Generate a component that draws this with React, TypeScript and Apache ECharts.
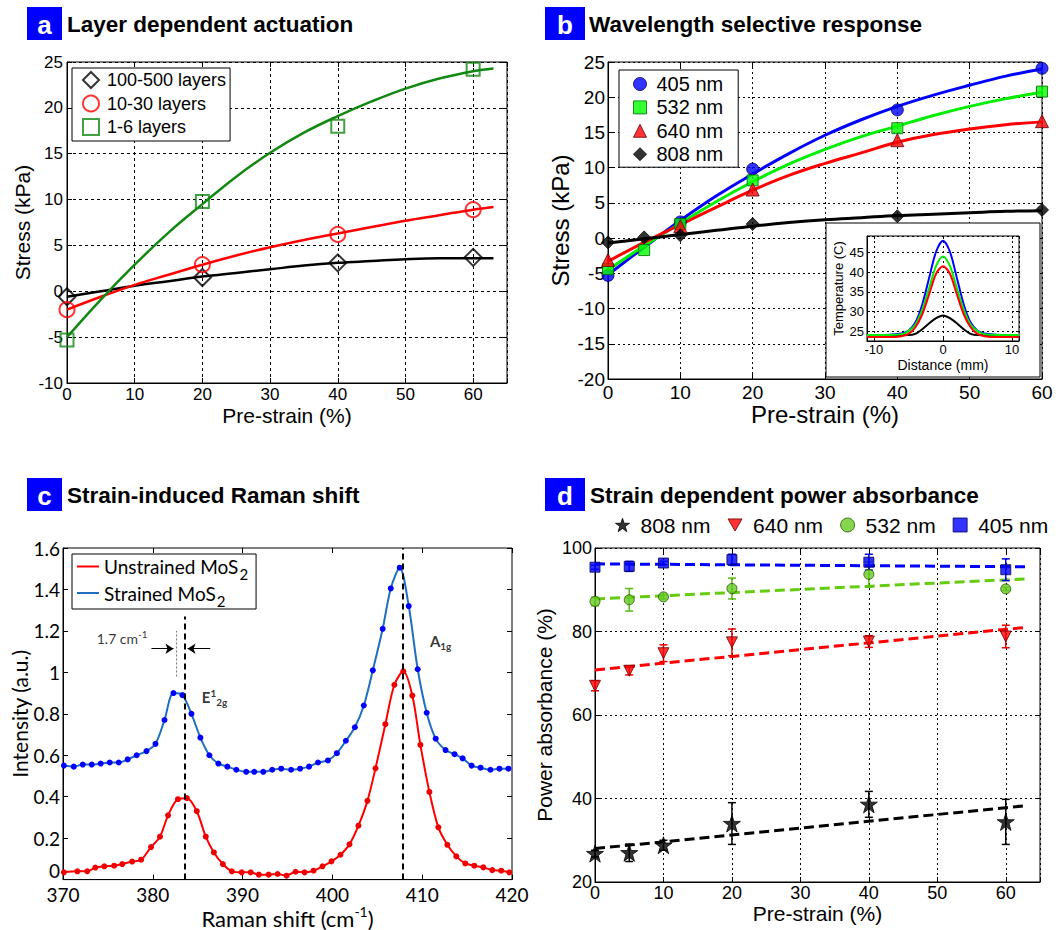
import React, { useEffect, useRef } from 'react';
import * as echarts from 'echarts';

const ARIAL = '"Liberation Sans", Arial, sans-serif';
const CAL = 'Lato, "Open Sans", sans-serif';

// ---------------- Panel a : Layer dependent actuation ----------------
const aStrain = [0, 20, 40, 60];
const aLayers100 = [-0.6, 1.5, 3.1, 3.7];
const aLayers10 = [-2.0, 2.9, 6.2, 8.9];
const aLayers1 = [-5.3, 9.8, 18.0, 24.2];
const aFitStrain = [0, 5, 10, 15, 20, 25, 30, 35, 40, 45, 50, 55, 60, 63];
const aFit100 = [-0.6, 0.0, 0.6, 1.1, 1.6, 2.0, 2.4, 2.8, 3.1, 3.3, 3.5, 3.6, 3.6, 3.6];
const aFit10 = [-2.0, -0.6, 0.7, 1.8, 2.9, 3.9, 4.8, 5.6, 6.3, 7.0, 7.7, 8.3, 8.9, 9.2];
const aFit1 = [-5.0, -0.9, 2.9, 6.4, 9.5, 12.5, 15.1, 17.3, 19.1, 20.7, 22.1, 23.2, 24.0, 24.3];
const aNames = ['100-500 layers', '10-30 layers', '1-6 layers'];

// ---------------- Panel b : Wavelength selective response ----------------
const bStrain = [0, 5, 10, 20, 40, 60];
const b405 = [-5.3, null, 2.3, 9.8, 18.2, 24.1];
const b532 = [-4.4, -1.7, 2.0, 8.2, 15.6, 20.8];
const b640 = [-3.1, null, 1.7, 6.9, 13.9, 16.6];
const b808 = [-0.6, 0.1, 0.4, 2.0, 3.1, 4.0];
const bFitStrain = [0, 5, 10, 15, 20, 25, 30, 35, 40, 45, 50, 55, 60];
const bFit405 = [-5.2, -1.3, 2.5, 6.0, 9.1, 12.0, 14.6, 16.8, 18.7, 20.3, 21.7, 23.0, 24.0];
const bFit532 = [-4.5, -1.1, 2.1, 5.2, 8.0, 10.5, 12.6, 14.4, 15.9, 17.4, 18.7, 19.8, 20.7];
const bFit640 = [-3.3, -0.6, 1.9, 4.4, 6.8, 8.9, 10.6, 12.1, 13.6, 14.7, 15.5, 16.1, 16.5];
const bFit808 = [-0.7, -0.1, 0.5, 1.1, 1.7, 2.2, 2.6, 2.9, 3.2, 3.4, 3.6, 3.8, 3.9];
const bNames = ['405 nm', '532 nm', '640 nm', '808 nm'];

// inset : temperature profile
const insetDist = [-11, -9, -7, -6, -5, -4, -3, -2, -1, 0, 1, 2, 3, 4, 5, 6, 7, 9, 11];
const inset405 = [24, 24, 24.2, 24.4, 25.1, 27.2, 31.8, 38.6, 45.2, 48, 45.2, 38.6, 31.8, 27.2, 25.1, 24.4, 24.2, 24, 24];
const inset532 = [24, 24, 24.1, 24.2, 25, 26.7, 30.5, 36, 41.6, 44, 41.6, 36, 30.5, 26.7, 25, 24.2, 24.1, 24, 24];
const inset640 = [23.5, 23.5, 23.5, 23.7, 24.3, 26, 29.3, 34.4, 39.6, 41.5, 39.6, 34.4, 29.3, 26, 24.3, 23.7, 23.5, 23.5, 23.5];
const inset808 = [24, 24, 24, 24, 24, 24.3, 25.5, 27, 28.3, 29, 28.3, 27, 25.5, 24.3, 24, 24, 24, 24, 24];

// ---------------- Panel c : Strain-induced Raman shift ----------------
const cUnX = [370.1, 371.6, 372.7, 373.6, 374.6, 375.7, 376.6, 377.7, 378.7, 379.8, 380.8, 381.7, 382.8, 383.8, 384.9, 385.9, 386.8, 387.8, 388.8, 389.9, 390.9, 391.8, 392.9, 393.9, 394.9, 395.9, 396.9, 397.9, 398.9, 399.9, 400.9, 401.9, 402.9, 403.9, 404.8, 405.9, 406.9, 407.9, 408.9, 409.8, 410.8, 411.8, 412.8, 413.8, 414.8, 415.8, 416.8, 417.8, 418.8, 419.7];
const cUnY = [0.035, 0.04, 0.04, 0.058, 0.064, 0.067, 0.075, 0.087, 0.096, 0.157, 0.207, 0.31, 0.388, 0.393, 0.33, 0.207, 0.131, 0.075, 0.04, 0.035, 0.035, 0.024, 0.024, 0.027, 0.019, 0.038, 0.035, 0.043, 0.064, 0.088, 0.12, 0.17, 0.26, 0.38, 0.537, 0.75, 0.94, 1.005, 0.888, 0.65, 0.423, 0.252, 0.168, 0.112, 0.078, 0.067, 0.059, 0.046, 0.043, 0.035];
const cStX = [370.1, 371.2, 372.2, 373.2, 374.2, 375.2, 376.2, 377.2, 378.2, 379.3, 380.3, 381.3, 382.3, 383.3, 384.3, 385.3, 386.3, 387.3, 388.3, 389.3, 390.4, 391.3, 392.3, 393.3, 394.3, 395.4, 396.4, 397.4, 398.4, 399.5, 400.5, 401.5, 402.5, 403.5, 404.5, 405.6, 406.5, 407.5, 408.5, 409.5, 410.5, 411.5, 412.6, 413.6, 414.5, 415.5, 416.5, 417.6, 418.6, 419.6];
const cStY = [0.55, 0.545, 0.555, 0.555, 0.56, 0.565, 0.565, 0.58, 0.6, 0.62, 0.655, 0.77, 0.9, 0.89, 0.8, 0.685, 0.6, 0.56, 0.545, 0.53, 0.52, 0.52, 0.52, 0.53, 0.535, 0.53, 0.535, 0.545, 0.565, 0.575, 0.61, 0.67, 0.735, 0.84, 1.01, 1.21, 1.405, 1.505, 1.32, 1.015, 0.805, 0.68, 0.625, 0.605, 0.585, 0.55, 0.54, 0.53, 0.535, 0.535];
const cNames = ['Unstrained MoS2', 'Strained MoS2'];
const cPeakE = 383.57;
const cPeakA = 407.84;
const cPeakEStrained = 382.57;

// ---------------- Panel d : Strain dependent power absorbance ----------------
const dStrain = [0, 5, 10, 20, 40, 60];
const d808 = [26.8, 27.0, 28.8, 34.0, 38.6, 34.4];
const d808Err = [0.8, 2.1, 1.2, 5.0, 3.1, 5.4];
const d640 = [67.0, 70.6, 74.8, 77.4, 77.6, 78.8];
const d640Err = [1.2, 1.0, 2.0, 3.2, 1.4, 2.7];
const d532 = [87.2, 87.6, 88.3, 90.3, 93.7, 90.2];
const d532Err = [1.0, 2.7, 0.5, 2.5, 3.0, 0.4];
const d405 = [95.4, 95.6, 96.4, 97.2, 96.6, 94.8];
const d405Err = [0.5, 1.2, 0.4, 1.3, 1.9, 2.6];
const dFitStrain = [0, 63];
const d808Fit = [28.0, 38.3];
const d640Fit = [70.8, 81.0];
const d532Fit = [87.8, 92.6];
const d405Fit = [96.2, 95.5];
const dNames = ['808 nm', '640 nm', '532 nm', '405 nm'];

// ---------------- helpers ----------------
const STAR = 'path://M50,0 L61.8,35.4 L100,35.4 L69.1,57.3 L80.9,95.1 L50,72.4 L19.1,95.1 L30.9,57.3 L0,35.4 L38.2,35.4 Z';
const TRI_DOWN = 'path://M0,0 L100,0 L50,87 Z';

const zip = (xs: number[], ys: (number | null)[]) =>
  xs.map((x, i) => [x, ys[i]]).filter((p) => p[1] !== null && p[1] !== undefined);

const tickFmt = (step: number, liftZero = false) => (v: number) => {
  if (Math.abs(v / step - Math.round(v / step)) >= 1e-6) return '';
  const s = String(+v.toFixed(4));
  return liftZero && s === '0' ? '{lift|0}' : s;
};

function axis(dim: 'x' | 'y', o: any) {
  const base: any = {
    type: 'value',
    gridIndex: o.gi,
    position: dim === 'x' ? 'bottom' : 'left',
    min: o.min,
    max: o.max,
    z: o.z ?? 0,
    name: o.name,
    nameLocation: 'middle',
    nameGap: o.nameGap,
    nameTextStyle: { fontFamily: o.font, fontSize: o.nameSize, color: '#000', rich: o.rich },
    axisLine: { show: true, onZero: false, lineStyle: { color: '#000', width: 1 } },
    axisTick: { show: true, inside: true, length: o.tick ?? 5, lineStyle: { color: '#000' } },
    axisLabel: {
      show: true,
      fontFamily: o.font,
      fontSize: o.size,
      color: '#000',
      margin: o.margin ?? 3,
      formatter: tickFmt(o.step, !!o.liftZero),
      hideOverlap: false,
      rich: { lift: { fontFamily: o.font, fontSize: o.size, color: '#000', padding: [0, 0, 18, 0] } },
    },
    splitLine: { show: !!o.grid, lineStyle: { type: o.dash ?? [2, 3], color: '#000', width: 1 } },
  };
  if (o.auto) base.splitNumber = o.splitNumber;
  else base.interval = o.step;
  return base;
}

function mirror(dim: 'x' | 'y', o: any) {
  const base: any = {
    type: 'value',
    gridIndex: o.gi,
    position: dim === 'x' ? 'top' : 'right',
    min: o.min,
    max: o.max,
    z: o.z ?? 0,
    axisLine: { show: false, onZero: false },
    axisTick: { show: true, inside: true, length: o.tick ?? 5, lineStyle: { color: '#000' } },
    axisLabel: { show: false },
    splitLine: { show: false },
  };
  if (o.auto) base.splitNumber = o.splitNumber;
  else base.interval = o.step;
  return base;
}

function fitLine(xs: number[], ys: number[], color: string, xi: number, width: number, extra: any = {}) {
  return {
    type: 'line',
    xAxisIndex: xi,
    yAxisIndex: xi,
    data: zip(xs, ys),
    symbol: 'none',
    showSymbol: false,
    smooth: extra.smooth ?? 0.4,
    silent: true,
    z: extra.z ?? 2,
    lineStyle: { color, width, type: extra.type ?? 'solid' },
  };
}

function errSeries(xs: number[], ys: number[], es: number[], color: string, xi: number) {
  return {
    type: 'custom',
    xAxisIndex: xi,
    yAxisIndex: xi,
    silent: true,
    z: 3,
    data: xs.map((x, i) => [x, ys[i] - es[i], ys[i] + es[i]]),
    encode: { x: 0, y: [1, 2] },
    renderItem: (_p: any, api: any) => {
      const x = api.value(0);
      const a = api.coord([x, api.value(1)]);
      const b = api.coord([x, api.value(2)]);
      const w = 4;
      const st = { stroke: color, lineWidth: 1.5 };
      return {
        type: 'group',
        children: [
          { type: 'line', shape: { x1: a[0], y1: a[1], x2: b[0], y2: b[1] }, style: st },
          { type: 'line', shape: { x1: a[0] - w, y1: a[1], x2: a[0] + w, y2: a[1] }, style: st },
          { type: 'line', shape: { x1: b[0] - w, y1: b[1], x2: b[0] + w, y2: b[1] }, style: st },
        ],
      };
    },
  };
}

function titleBox(x: number, y: number, w: number, h: number, letter: string) {
  return [
    { type: 'rect', z: 50, shape: { x, y, width: w, height: h }, style: { fill: '#0000ff' } },
    {
      type: 'text',
      z: 51,
      x: x + w / 2,
      y: y + h / 2 + 1,
      style: { text: letter, fill: '#fff', font: `bold 26px ${ARIAL}`, align: 'center', verticalAlign: 'middle' },
    },
  ];
}
function titleText(x: number, y: number, t: string) {
  return {
    type: 'text',
    z: 51,
    x,
    y,
    style: { text: t, fill: '#000', font: `bold 22.5px ${ARIAL}`, align: 'left', verticalAlign: 'middle' },
  };
}

function buildOption(): any {
  const grids = [
    { left: 67, top: 62, width: 440, height: 321 },
    { left: 608, top: 62, width: 434, height: 317 },
    { left: 867, top: 236, width: 152, height: 105, z: 15 },
    { left: 63, top: 548, width: 449, height: 333 },
    { left: 595, top: 548, width: 445, height: 334 },
  ].map((g) => ({ show: true, borderColor: '#000', borderWidth: 1, backgroundColor: '#fff', containLabel: false, ...g }));

  const xs = [
    { gi: 0, min: 0, max: 65, step: 10, font: ARIAL, size: 17, name: 'Pre-strain (%)', nameSize: 21, nameGap: 22, grid: true, margin: 3, dash: [3, 3] },
    { gi: 1, min: 0, max: 60, step: 10, font: ARIAL, size: 19, name: 'Pre-strain (%)', nameSize: 24, nameGap: 11, grid: true, margin: 4 },
    { gi: 2, min: -11, max: 11, step: 10, auto: true, splitNumber: 2, font: ARIAL, size: 13, name: 'Distance (mm)', nameSize: 14, nameGap: 17, grid: true, margin: 2, z: 20, tick: 3 },
    {
      gi: 3, min: 370, max: 420, step: 10, font: CAL, size: 19, name: 'Raman shift (cm{sup|-1})', nameSize: 22, nameGap: 16, grid: false, margin: 5,
      rich: { sup: { fontFamily: CAL, fontSize: 14, padding: [0, 0, 13, 0], color: '#000' } },
    },
    { gi: 4, min: 0, max: 65, step: 10, font: ARIAL, size: 18, name: 'Pre-strain (%)', nameSize: 21, nameGap: 17, grid: true, margin: 2 },
  ];
  const ys = [
    { gi: 0, min: -10, max: 25, step: 5, font: ARIAL, size: 17, name: 'Stress (kPa)', nameSize: 21, nameGap: 34, grid: true, margin: 4, dash: [3, 3] },
    { gi: 1, min: -20, max: 25, step: 5, font: ARIAL, size: 19, name: 'Stress (kPa)', nameSize: 24, nameGap: 36, grid: true, margin: 3 },
    { gi: 2, min: 22.5, max: 49.2, step: 5, auto: true, splitNumber: 5, font: ARIAL, size: 13, name: 'Temperature (C)', nameSize: 13, nameGap: 22, grid: true, margin: 3, z: 20, tick: 3 },
    { gi: 3, min: 0, max: 1.6, step: 0.2, font: CAL, size: 19, name: 'Intensity (a.u.)', nameSize: 21, nameGap: 28, grid: false, margin: 3, liftZero: true },
    { gi: 4, min: 20, max: 100, step: 20, font: ARIAL, size: 18, name: 'Power absorbance (%)', nameSize: 21, nameGap: 40, grid: true, margin: 3 },
  ];

  const xAxis = [...xs.map((o) => axis('x', o)), ...xs.map((o) => mirror('x', o))];
  const yAxis = [...ys.map((o) => axis('y', o)), ...ys.map((o) => mirror('y', o))];

  const series: any[] = [];

  // ---- panel a
  series.push(fitLine(aFitStrain, aFit100, '#000', 0, 2.5));
  series.push(fitLine(aFitStrain, aFit10, '#ff0000', 0, 2.5));
  series.push(fitLine(aFitStrain, aFit1, '#118811', 0, 2.5));
  const aStyles = [
    { sym: 'diamond', size: 17, c: '#000' },
    { sym: 'circle', size: 15, c: '#ff0000' },
    { sym: 'rect', size: 13, c: '#118811' },
  ];
  [aLayers100, aLayers10, aLayers1].forEach((vals, i) => {
    series.push({
      type: 'scatter', name: aNames[i], xAxisIndex: 0, yAxisIndex: 0, z: 3,
      data: zip(aStrain, vals), symbol: aStyles[i].sym, symbolSize: aStyles[i].size,
      itemStyle: { color: 'rgba(255,255,255,0)', borderColor: aStyles[i].c, borderWidth: 2 },
    });
  });

  // ---- panel b
  series.push(fitLine(bFitStrain, bFit405, '#0000ff', 1, 3));
  series.push(fitLine(bFitStrain, bFit532, '#00ee00', 1, 3));
  series.push(fitLine(bFitStrain, bFit640, '#ff0000', 1, 3));
  series.push(fitLine(bFitStrain, bFit808, '#000', 1, 3));
  const bStyles = [
    { sym: 'circle', size: 12, c: '#0000ff', bc: '#000066' },
    { sym: 'rect', size: 11, c: '#00ff00', bc: '#006600' },
    { sym: 'triangle', size: 13, c: '#ff0000', bc: '#660000' },
    { sym: 'diamond', size: 13, c: '#000', bc: '#000' },
  ];
  [b405, b532, b640, b808].forEach((vals, i) => {
    series.push({
      type: 'scatter', name: 'b:' + bNames[i], xAxisIndex: 1, yAxisIndex: 1, z: 3,
      data: zip(bStrain, vals), symbol: bStyles[i].sym, symbolSize: bStyles[i].size,
      itemStyle: { color: bStyles[i].c, borderColor: bStyles[i].bc, borderWidth: 1 },
    });
  });

  // ---- inset
  series.push(fitLine(insetDist, inset808, '#000', 2, 2, { z: 21, smooth: 0.2 }));
  series.push(fitLine(insetDist, inset405, '#0000ff', 2, 2, { z: 21, smooth: 0.3 }));
  series.push(fitLine(insetDist, inset532, '#00ee00', 2, 2, { z: 21, smooth: 0.3 }));
  series.push(fitLine(insetDist, inset640, '#ff0000', 2, 2, { z: 21, smooth: 0.3 }));

  // ---- panel c
  series.push({
    type: 'line', name: cNames[0], xAxisIndex: 3, yAxisIndex: 3, data: zip(cUnX, cUnY), smooth: 0.3,
    symbol: 'circle', symbolSize: 6, showSymbol: true, z: 3,
    itemStyle: { color: '#ee0000' }, lineStyle: { color: '#ff0000', width: 2 },
  });
  series.push({
    type: 'line', name: cNames[1], xAxisIndex: 3, yAxisIndex: 3, data: zip(cStX, cStY), smooth: 0.3,
    symbol: 'circle', symbolSize: 6, showSymbol: true, z: 3,
    itemStyle: { color: '#0000ff' }, lineStyle: { color: '#1f6fc0', width: 2 },
  });
  const dashBlack = { type: [6, 4], color: '#000', width: 2 };
  series.push({
    type: 'scatter', xAxisIndex: 3, yAxisIndex: 3, symbolSize: 1, silent: true, z: 4,
    itemStyle: { color: 'rgba(0,0,0,0)' },
    label: {
      show: true, position: 'right', distance: 0, color: '#000', fontFamily: CAL, fontSize: 14,
      rich: {
        sup: { fontFamily: CAL, fontSize: 10, padding: [0, 0, 8, 0], color: '#000' },
        b: { fontFamily: CAL, fontSize: 15, fontWeight: 'bold', color: '#000' },
        bs: { fontFamily: CAL, fontSize: 10, fontWeight: 'bold', padding: [0, 0, 9, 0], color: '#000' },
        bsub: { fontFamily: CAL, fontSize: 10, fontWeight: 'bold', padding: [9, 0, 0, 0], color: '#000' },
      },
    },
    data: [
      { value: [373.7, 1.165], label: { formatter: '1.7 cm{sup|-1}' } },
      { value: [385.4, 0.88], label: { formatter: '{b|E}{bs|1}{bsub|2g}' } },
      { value: [410.8, 1.15], label: { formatter: '{b|A}{bsub|1g}' } },
    ],
    markLine: {
      silent: true, symbol: 'none', symbolSize: 8, label: { show: false }, animation: false,
      data: [
        [{ coord: [cPeakE, 0], lineStyle: dashBlack }, { coord: [cPeakE, 1.27] }],
        [{ coord: [cPeakA, 0], lineStyle: dashBlack }, { coord: [cPeakA, 1.6] }],
        [{ coord: [cPeakEStrained, 0.98], lineStyle: { type: [2, 2], color: '#777', width: 1 } }, { coord: [cPeakEStrained, 1.2] }],
        [{ coord: [379.85, 1.114], symbol: 'none', lineStyle: { type: 'solid', color: '#000', width: 1 } }, { coord: [382.3, 1.114], symbol: 'arrow' }],
        [{ coord: [386.4, 1.114], symbol: 'none', lineStyle: { type: 'solid', color: '#000', width: 1 } }, { coord: [383.87, 1.114], symbol: 'arrow' }],
      ],
    },
  });

  // ---- panel d
  series.push(fitLine(dFitStrain, d808Fit, '#000', 4, 3, { type: [10, 5], smooth: false }));
  series.push(fitLine(dFitStrain, d640Fit, '#ff0000', 4, 3, { type: [10, 5], smooth: false }));
  series.push(fitLine(dFitStrain, d532Fit, '#66cc11', 4, 3, { type: [10, 5], smooth: false }));
  series.push(fitLine(dFitStrain, d405Fit, '#0000ff', 4, 3, { type: [10, 5], smooth: false }));
  series.push(errSeries(dStrain, d808, d808Err, '#000', 4));
  series.push(errSeries(dStrain, d640, d640Err, '#ee0000', 4));
  series.push(errSeries(dStrain, d532, d532Err, '#55bb11', 4));
  series.push(errSeries(dStrain, d405, d405Err, '#0000ee', 4));
  const dStyles = [
    { sym: STAR, size: 17, c: '#000', bc: '#000' },
    { sym: TRI_DOWN, size: 11, c: '#ff0000', bc: '#660000' },
    { sym: 'circle', size: 10, c: '#66cc22', bc: '#2a5500' },
    { sym: 'rect', size: 10, c: '#0000ff', bc: '#000055' },
  ];
  [d808, d640, d532, d405].forEach((vals, i) => {
    series.push({
      type: 'scatter', name: 'd:' + dNames[i], xAxisIndex: 4, yAxisIndex: 4, z: 4,
      data: zip(dStrain, vals), symbol: dStyles[i].sym, symbolSize: dStyles[i].size,
      itemStyle: { color: dStyles[i].c, borderColor: dStyles[i].bc, borderWidth: 1 },
    });
  });

  const legendBox = { borderColor: '#000', borderWidth: 1, backgroundColor: '#fff', selectedMode: false, orient: 'vertical' };
  const legend = [
    {
      ...legendBox, left: 72, top: 68, padding: [3, 4, 5, 10], itemWidth: 16, itemHeight: 16, itemGap: 5.5,
      textStyle: { fontFamily: ARIAL, fontSize: 18, lineHeight: 18, color: '#000', padding: [0, 0, 0, 3] },
      data: aNames.map((n, i) => ({
        name: n, icon: aStyles[i].sym,
        itemStyle: { color: 'rgba(255,255,255,0)', borderColor: aStyles[i].c, borderWidth: 2 },
      })),
    },
    {
      ...legendBox, left: 619, top: 70, padding: [4, 15, 3, 14], itemWidth: 13, itemHeight: 13, itemGap: 3.4,
      textStyle: { fontFamily: ARIAL, fontSize: 20, lineHeight: 20, color: '#000', padding: [0, 0, 0, 5] },
      formatter: (n: string) => n.slice(2),
      data: bNames.map((n, i) => ({
        name: 'b:' + n, icon: bStyles[i].sym,
        itemStyle: { color: bStyles[i].c, borderColor: bStyles[i].bc, borderWidth: 1 },
      })),
    },
    {
      ...legendBox, left: 72, top: 554, padding: [3, 8, 1, 5], itemWidth: 22, itemHeight: 2, itemGap: 2,
      textStyle: {
        fontFamily: CAL, fontSize: 19, color: '#000',
        rich: {
          t: { fontFamily: CAL, fontSize: 19, color: '#000' },
          s: { fontFamily: CAL, fontSize: 15, color: '#000', padding: [15, 0, 0, 1] },
        },
      },
      formatter: (n: string) => `{t|${n.slice(0, -1)}}{s|2}`,
      data: [
        { name: cNames[0], icon: 'rect', itemStyle: { color: '#ff0000' } },
        { name: cNames[1], icon: 'rect', itemStyle: { color: '#1f6fc0' } },
      ],
    },
    {
      selectedMode: false, orient: 'horizontal', left: 615, top: 513, padding: 0, itemWidth: 14, itemHeight: 14, itemGap: 17,
      textStyle: { fontFamily: ARIAL, fontSize: 21, lineHeight: 24, color: '#000', padding: [0, 0, 0, 6] },
      formatter: (n: string) => n.slice(2),
      data: dNames.map((n, i) => ({
        name: 'd:' + n, icon: dStyles[i].sym,
        itemStyle: { color: dStyles[i].c, borderColor: dStyles[i].bc, borderWidth: 1 },
      })),
    },
  ];

  const graphic = {
    elements: [
      ...titleBox(27, 7, 35, 33, 'a'),
      titleText(67, 24, 'Layer dependent actuation'),
      ...titleBox(545, 7, 40, 33, 'b'),
      titleText(589, 24, 'Wavelength selective response'),
      ...titleBox(27, 478, 35, 33, 'c'),
      titleText(67, 495, 'Strain-induced Raman shift'),
      ...titleBox(545, 478, 40, 33, 'd'),
      titleText(590, 495, 'Strain dependent power absorbance'),
      {
        type: 'rect', z: 10, shape: { x: 826, y: 223, width: 214, height: 154 },
        style: { fill: '#fff', stroke: '#000', lineWidth: 1 },
      },
    ],
  };

  return {
    animation: false,
    backgroundColor: '#fff',
    textStyle: { fontFamily: ARIAL },
    grid: grids,
    xAxis,
    yAxis,
    legend,
    graphic,
    series,
  };
}

export default function App() {
  const ref = useRef<HTMLDivElement>(null);
  useEffect(() => {
    const chart = echarts.init(ref.current as HTMLDivElement, null, { renderer: 'svg' });
    chart.setOption(buildOption());
    return () => chart.dispose();
  }, []);
  return (
    <div
      ref={ref}
      style={{ position: 'absolute', left: 0, top: 0, width: 1059, height: 930, background: '#fff' }}
    />
  );
}
